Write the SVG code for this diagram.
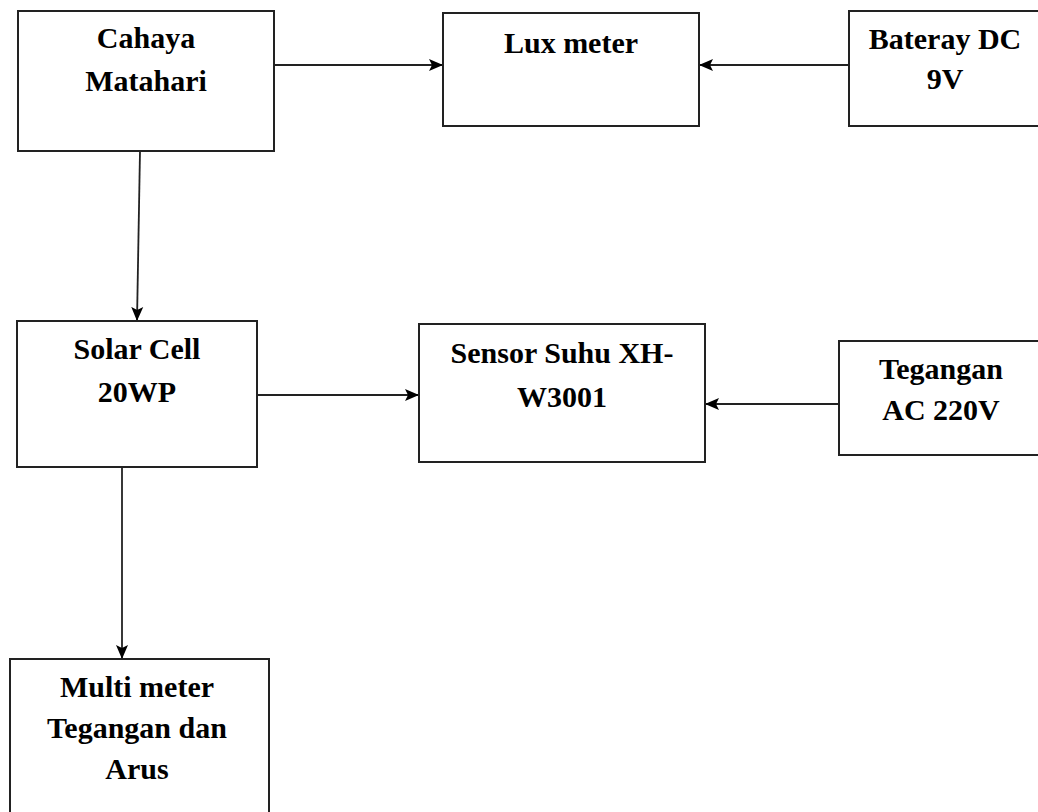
<svg xmlns="http://www.w3.org/2000/svg" width="1038" height="812" viewBox="0 0 1038 812">
<style>
.box{fill:#fff;stroke:#222;stroke-width:2}
.t{font-family:"Liberation Serif","Times New Roman",serif;font-weight:bold;font-size:30px;fill:#000;text-anchor:middle}
.c{stroke:#222;stroke-width:1.8;fill:none;marker-end:url(#ah)}
</style>
<defs>
<marker id="ah" markerWidth="16" markerHeight="14" refX="14" refY="7" orient="auto" markerUnits="userSpaceOnUse">
<path d="M0,1 L14,7 L0,13 L3,7 Z" fill="#000"/>
</marker>
</defs>
<rect width="1038" height="812" fill="#fff"/>
<g id="connectors">
<line class="c" x1="274" y1="65" x2="443" y2="65"/>
<line class="c" x1="849" y1="65" x2="699" y2="65"/>
<line class="c" x1="140" y1="151" x2="137" y2="321"/>
<line class="c" x1="257" y1="395" x2="419" y2="395"/>
<line class="c" x1="839" y1="404" x2="705" y2="404"/>
<line class="c" x1="122" y1="467" x2="122" y2="659"/>
</g>
<g id="cahaya">
<rect class="box" x="18" y="11" width="256" height="140"/>
<text class="t" x="146" y="48">Cahaya</text>
<text class="t" x="146" y="91">Matahari</text>
</g>
<g id="lux">
<rect class="box" x="443" y="13" width="256" height="113"/>
<text class="t" x="571" y="53">Lux meter</text>
</g>
<g id="bateray">
<rect class="box" x="849" y="11" width="200" height="115"/>
<text class="t" x="945" y="49">Bateray DC</text>
<text class="t" x="945" y="89">9V</text>
</g>
<g id="solar">
<rect class="box" x="17" y="321" width="240" height="146"/>
<text class="t" x="137" y="359">Solar Cell</text>
<text class="t" x="137" y="402">20WP</text>
</g>
<g id="sensor">
<rect class="box" x="419" y="324" width="286" height="138"/>
<text class="t" x="562" y="363">Sensor Suhu XH-</text>
<text class="t" x="562" y="407">W3001</text>
</g>
<g id="tegangan">
<rect class="box" x="839" y="341" width="210" height="114"/>
<text class="t" x="941" y="379">Tegangan</text>
<text class="t" x="941" y="420">AC 220V</text>
</g>
<g id="multimeter">
<rect class="box" x="10" y="659" width="259" height="170"/>
<text class="t" x="137" y="697">Multi meter</text>
<text class="t" x="137" y="738">Tegangan dan</text>
<text class="t" x="137" y="779">Arus</text>
</g>
</svg>
